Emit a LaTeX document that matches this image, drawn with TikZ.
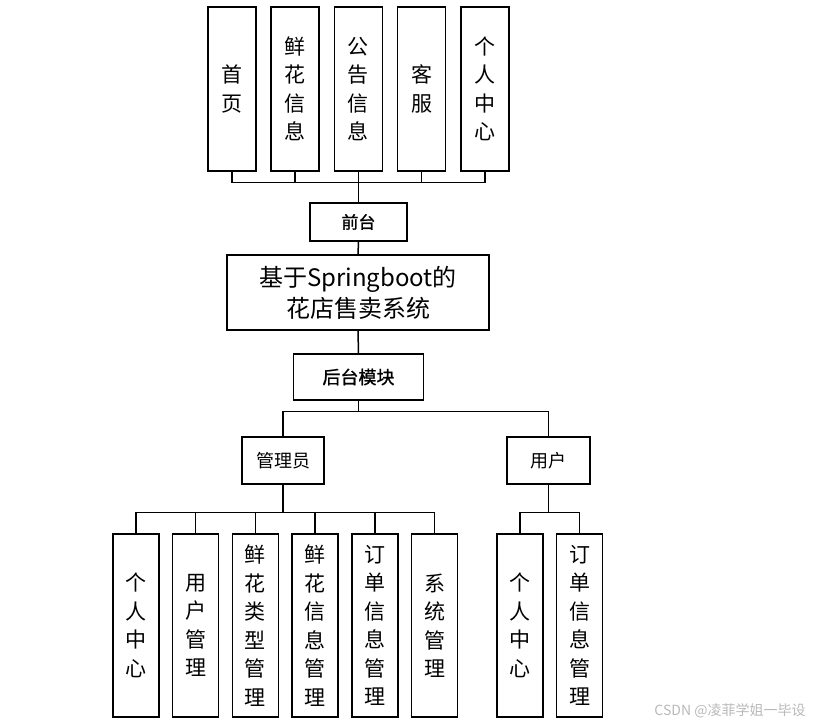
\documentclass[tikz,border=0pt]{standalone}
\usepackage{fontspec}
\setmainfont{Noto Sans CJK SC}
\newfontfamily\semibold[FakeBold=1.2]{Noto Sans CJK SC}
\usepackage{tikz}
\usetikzlibrary{positioning}

\begin{document}
\begin{tikzpicture}[
    x=1pt, y=-1pt,
    node distance=13.7pt and 13.7pt,
    box/.style={draw, line width=1.5pt, inner sep=0pt, align=center},
    vbox/.style={box, minimum width=48pt, minimum height=164pt,
                 font=\fontsize{21}{28.5}\selectfont},
    lbox/.style={vbox, minimum width=46pt, minimum height=183pt},
    hbox/.style={box, minimum height=47pt, font=\fontsize{18}{22}\selectfont},
    link/.style={line width=1.5pt},
  ]
  \useasboundingbox (0,0) rectangle (823,727);

  % front-end modules (top row)
  \node[vbox]                  (shouye)  at (232,89) {首\\页};
  \node[vbox, right=of shouye]  (xianhua) {鲜\\花\\信\\息};
  \node[vbox, right=of xianhua] (gonggao) {公\\告\\信\\息};
  \node[vbox, right=of gonggao] (kefu)    {客\\服};
  \node[vbox, right=of kefu]    (geren)   {个\\人\\中\\心};

  % centre column
  \node[hbox, minimum width=97pt, minimum height=38pt, font=\fontsize{17}{22}\selectfont\semibold]
                               (qiantai) at (358.5,222) {前台};
  \node[box, minimum width=262pt, minimum height=75pt, font=\fontsize{24}{31}\selectfont]
                               (main)    at (358,292.5) {基于Springboot的\\花店售卖系统};
  \node[hbox, minimum width=130pt, minimum height=46pt, font=\fontsize{18}{22}\selectfont\semibold]
                               (houtai)  at (358.5,377) {后台模块};

  % roles
  \node[hbox, minimum width=82pt] (admin) at (283,460.5)   {管理员};
  \node[hbox, minimum width=83pt] (user)  at (548.5,460.5) {用户};

  % admin modules
  \node[lbox]                        (a1) at (136,625.5) {个\\人\\中\\心};
  \node[lbox, right=12.2pt of a1]     (a2) {用\\户\\管\\理};
  \node[lbox, right=12.2pt of a2]     (a3) {鲜\\花\\类\\型\\管\\理};
  \node[lbox, right=12.2pt of a3]     (a4) {鲜\\花\\信\\息\\管\\理};
  \node[lbox, right=12.2pt of a4]     (a5) {订\\单\\信\\息\\管\\理};
  \node[lbox, right=12.2pt of a5]     (a6) {系\\统\\管\\理};

  % user modules
  \node[lbox]                        (u1) at (520,625.5) {个\\人\\中\\心};
  \node[lbox, right=12.2pt of u1]     (u2) {订\\单\\信\\息\\管\\理};

  \node[text=gray!55, font=\fontsize{14}{14}\selectfont] (mark) at (730,711) {CSDN @凌菲学姐一毕设};

  % connectors
  \foreach \n in {shouye,xianhua,gonggao,kefu,geren}
    \draw[link] (\n.south) -- ++(0,11) -| (qiantai.north);
  \draw[link] (qiantai.south) -- (main.north);
  \draw[link] (main.south) -- (houtai.north);
  \foreach \n in {admin,user}
    \draw[link] (houtai.south) -- ++(0,11) -| (\n.north);
  \foreach \n in {a1,a2,a3,a4,a5,a6}
    \draw[link] (admin.south) -- ++(0,28) -| (\n.north);
  \foreach \n in {u1,u2}
    \draw[link] (user.south) -- ++(0,28) -| (\n.north);
\end{tikzpicture}
\end{document}
